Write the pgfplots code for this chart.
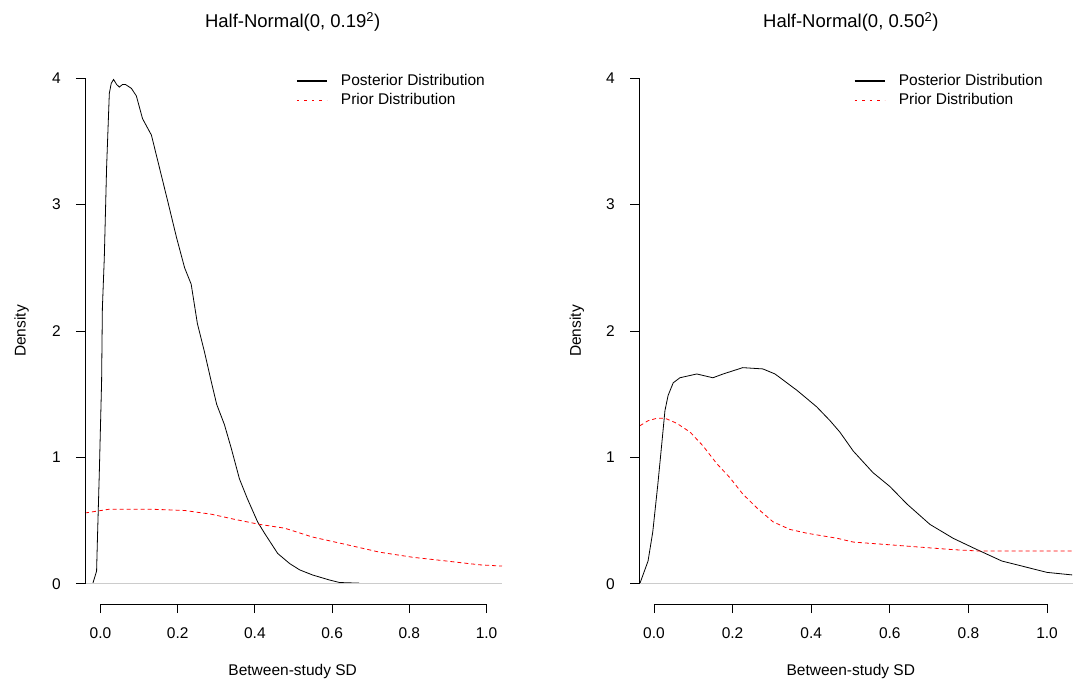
\documentclass[border=0pt]{standalone}
\usepackage{fontspec}
\setmainfont{Liberation Sans}
\usepackage{pgfplots}
\pgfplotsset{compat=1.18}

\pgfplotsset{
  rpanel/.style={
    scale only axis,
    height=546bp,
    ymin=-0.16, ymax=4.16,
    axis x line*=bottom,
    axis y line*=left,
    axis line style={draw=none},
    tick align=outside,
    major tick length=9bp,
    tick style={black,line width=0.8bp},
    xtick={0,0.2,0.4,0.6,0.8,1.0},
    xticklabels={0.0,0.2,0.4,0.6,0.8,1.0},
    ytick={0,1,2,3,4},
    yticklabels={0,1,2,3,4},
    xticklabel style={yshift=-9bp},
    yticklabel style={xshift=-10bp},
    title style={font=\fontsize{18.5bp}{22bp}\selectfont},
    clip=false,
    legend cell align=left,
    legend style={draw=none,fill=none,anchor=north west,inner sep=0pt,
      nodes={inner sep=1.2bp},column sep=12bp,row sep=3bp},
    xlabel={Between-study SD},
    ylabel={Density},
  },
  post/.style={black,line width=0.8bp,
    legend image code/.code={\draw[black,line width=2bp] (0bp,0bp) -- (30bp,0bp);}},
  prior/.style={red,line width=0.8bp,dash pattern=on 4bp off 3bp,
    legend image code/.code={\draw[red,line width=1.8bp,dash pattern=on 2.5bp off 5bp] (0bp,0bp) -- (30bp,0bp);}},
}

\begin{document}
\fontsize{15.5bp}{18bp}\selectfont
\begin{tikzpicture}
\path[use as bounding box] (0bp,0bp) rectangle (1073bp,688bp);

% left panel
\begin{axis}[rpanel,
  at={(85bp,84bp)}, anchor=south west,
  width=417bp,
  xmin=-0.04, xmax=1.04,
  title={Half-Normal(0, 0.19\textsuperscript{2})},
  title style={at={(axis description cs:0.498,1.055)},anchor=center},
  xlabel style={at={(axis description cs:0.498,-0.1245)},anchor=center},
  ylabel style={at={(axis description cs:-0.152,0.5)},anchor=center},
  legend style={at={(axis description cs:0.505,0.972)}},
]
\addplot[post] coordinates {
(-0.02,0) (-0.01,0.10) (-0.008,0.33) (-0.003,0.87) (0.003,1.60) (0.005,2.18)
(0.010,2.58) (0.016,3.30) (0.023,3.88) (0.028,3.96) (0.034,3.99) (0.042,3.95)
(0.049,3.93) (0.057,3.95) (0.065,3.95) (0.080,3.92) (0.093,3.86) (0.109,3.68)
(0.132,3.55) (0.153,3.29) (0.174,3.03) (0.197,2.74) (0.218,2.50) (0.235,2.37)
(0.251,2.06) (0.269,1.84) (0.287,1.60) (0.301,1.42) (0.321,1.26) (0.339,1.07)
(0.360,0.83) (0.381,0.67) (0.407,0.49) (0.425,0.40) (0.459,0.24) (0.490,0.16)
(0.516,0.11) (0.549,0.07) (0.593,0.03) (0.619,0.01) (0.670,0.005)
};
\addplot[prior] coordinates {
(-0.04,0.56) (0.023,0.59) (0.132,0.59) (0.218,0.58) (0.288,0.55) (0.347,0.51)
(0.412,0.47) (0.477,0.44) (0.549,0.37) (0.637,0.31) (0.723,0.25) (0.808,0.21)
(0.896,0.18) (0.982,0.15) (1.04,0.14)
};
\legend{Posterior Distribution,Prior Distribution}
\addplot[gray!40,line width=0.8bp,forget plot] coordinates {(-0.04,0) (1.04,0)};
\draw[black,line width=0.8bp] (axis cs:0,-0.16) -- (axis cs:1,-0.16);
\draw[black,line width=0.8bp] (axis cs:-0.04,0) -- (axis cs:-0.04,4);
\end{axis}

% right panel
\begin{axis}[rpanel,
  at={(639bp,84bp)}, anchor=south west,
  width=434bp,
  xmin=-0.038, xmax=1.066,
  title={Half-Normal(0, 0.50\textsuperscript{2})},
  title style={at={(axis description cs:0.488,1.055)},anchor=center},
  xlabel style={at={(axis description cs:0.488,-0.1245)},anchor=center},
  ylabel style={at={(axis description cs:-0.143,0.5)},anchor=center},
  legend style={at={(axis description cs:0.494,0.972)}},
]
\addplot[post] coordinates {
(-0.036,0) (-0.015,0.18) (-0.003,0.41) (0.010,0.79) (0.020,1.11) (0.028,1.37)
(0.036,1.49) (0.049,1.59) (0.066,1.63) (0.109,1.66) (0.150,1.63) (0.176,1.66)
(0.226,1.71) (0.277,1.70) (0.308,1.66) (0.364,1.53) (0.414,1.40) (0.448,1.29)
(0.473,1.20) (0.507,1.05) (0.557,0.88) (0.600,0.77) (0.644,0.63) (0.702,0.47)
(0.761,0.36) (0.822,0.27) (0.885,0.18) (0.949,0.13) (1.000,0.09) (1.064,0.07)
};
\addplot[prior] coordinates {
(-0.036,1.25) (-0.015,1.29) (0.008,1.31) (0.028,1.31) (0.058,1.27) (0.092,1.20)
(0.125,1.09) (0.160,0.95) (0.193,0.84) (0.226,0.71) (0.262,0.60) (0.303,0.49)
(0.346,0.43) (0.389,0.40) (0.466,0.36) (0.507,0.33) (0.593,0.31) (0.677,0.29)
(0.761,0.27) (0.822,0.26) (0.931,0.26) (1.064,0.26)
};
\legend{Posterior Distribution,Prior Distribution}
\addplot[gray!40,line width=0.8bp,forget plot] coordinates {(-0.038,0) (1.066,0)};
\draw[black,line width=0.8bp] (axis cs:0,-0.16) -- (axis cs:1,-0.16);
\draw[black,line width=0.8bp] (axis cs:-0.038,0) -- (axis cs:-0.038,4);
\end{axis}
\end{tikzpicture}
\end{document}
